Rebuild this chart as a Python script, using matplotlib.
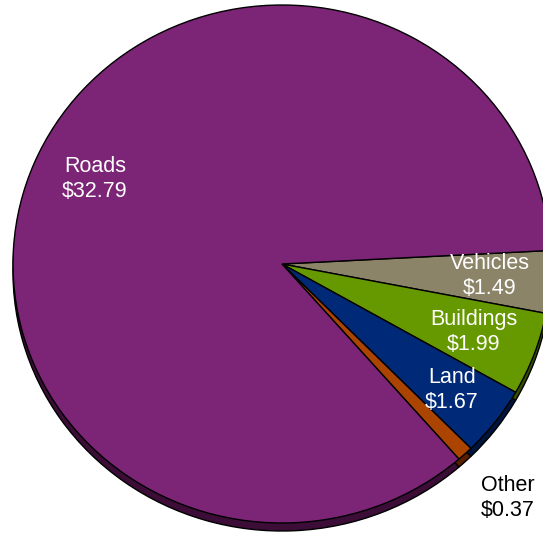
import matplotlib.pyplot as plt
from matplotlib.transforms import Affine2D

# spending by asset category ($)
categories = ["Vehicles", "Buildings", "Land", "Other", "Roads"]
values = [1.49, 1.99, 1.67, 0.37, 32.79]

top_colors = ["#8C8468", "#669900", "#002A78", "#AA4400", "#7C2476"]
side_colors = ["#4A4535", "#344E00", "#00153D", "#561F00", "#3B0D37"]

# label anchors in pixel space (x, y from top) and text colour
label_pos = [(490, 276), (474, 332), (452, 390), (508, 498), (95, 179)]
label_color = ["white", "white", "white", "black", "white"]

W, H = 543, 536
cx, cy = 282, H - 264
rx, ry = 269, 259
depth = 8

fig = plt.figure(figsize=(W / 100, H / 100), dpi=100)
ax = fig.add_axes([0, 0, 1, 1])


def squash(center_y):
    # flatten the circle into the tilted ellipse
    return Affine2D().translate(-cx, -center_y).scale(1, ry / rx).translate(cx, center_y)


# side wall of the disc, drawn first and shifted down
side, _ = ax.pie(values, colors=side_colors, startangle=3, counterclock=False,
                 radius=rx, center=(cx, cy - depth),
                 wedgeprops=dict(edgecolor="black", linewidth=1.0))
for w in side:
    w.set_transform(squash(cy - depth) + ax.transData)
    w.set_zorder(1)

top, _ = ax.pie(values, colors=top_colors, startangle=3, counterclock=False,
                radius=rx, center=(cx, cy),
                wedgeprops=dict(edgecolor="black", linewidth=1.0))
for w in top:
    w.set_transform(squash(cy) + ax.transData)
    w.set_zorder(2)

for name, val, (px, py), col in zip(categories, values, label_pos, label_color):
    ax.text(px, H - py, f"{name}\n${val:.2f}", ha="center", va="center",
            multialignment="center", color=col, fontsize=15.5,
            family="Liberation Sans", linespacing=1.22, zorder=5)

ax.set_xlim(0, W)
ax.set_ylim(0, H)
ax.set_aspect("auto")
ax.axis("off")

fig.savefig("out.png", dpi=100)
